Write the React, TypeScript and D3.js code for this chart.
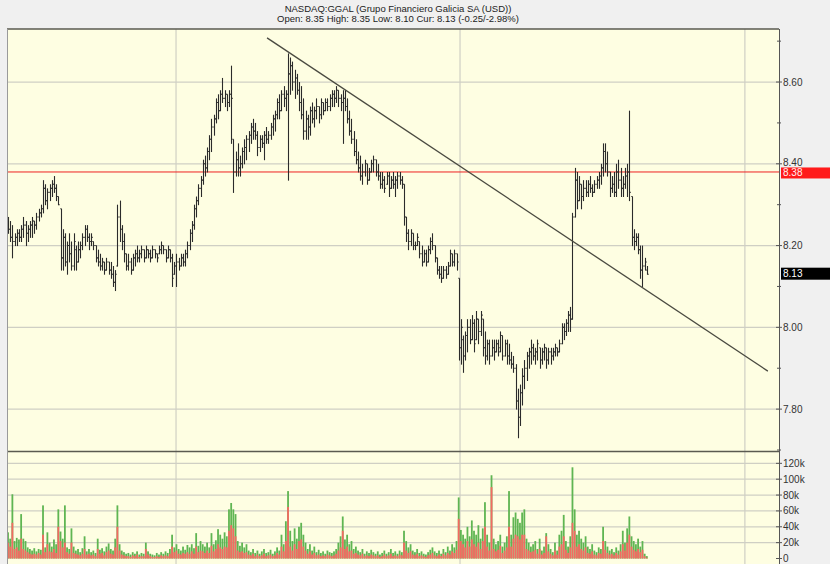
import React from "react";
import * as d3 from "d3";

// ---------- DATA ----------
const titleLine1 = "NASDAQ:GGAL (Grupo Financiero Galicia SA (USD))";
const titleLine2 = "Open: 8.35 High: 8.35 Low: 8.10 Cur: 8.13 (-0.25/-2.98%)";

const opens = [
  8.25,8.24,8.22,8.21,8.22,8.23,8.22,8.24,8.25,8.23,
  8.24,8.25,8.26,8.25,8.27,8.28,8.29,8.34,8.31,8.33,
  8.34,8.35,8.34,8.32,8.29,8.17,8.22,8.16,8.20,8.18,
  8.15,8.19,8.16,8.19,8.20,8.22,8.24,8.22,8.21,8.21,
  8.20,8.17,8.16,8.15,8.16,8.14,8.16,8.14,8.13,8.11,
  8.15,8.27,8.24,8.21,8.18,8.15,8.16,8.14,8.17,8.18,
  8.17,8.18,8.19,8.17,8.19,8.18,8.17,8.19,8.18,8.18,
  8.19,8.20,8.19,8.17,8.19,8.17,8.13,8.15,8.16,8.15,
  8.17,8.16,8.18,8.20,8.23,8.25,8.29,8.31,8.34,8.36,
  8.40,8.39,8.43,8.46,8.49,8.51,8.55,8.53,8.57,8.56,
  8.57,8.55,8.57,8.46,8.38,8.41,8.39,8.40,8.43,8.44,
  8.46,8.47,8.49,8.48,8.47,8.44,8.46,8.45,8.47,8.46,
  8.47,8.49,8.51,8.52,8.55,8.53,8.57,8.56,8.57,8.62,
  8.64,8.60,8.61,8.58,8.55,8.52,8.48,8.51,8.49,8.53,
  8.51,8.53,8.54,8.52,8.55,8.53,8.55,8.54,8.56,8.57,
  8.56,8.58,8.56,8.55,8.56,8.54,8.51,8.48,8.46,8.43,
  8.41,8.39,8.37,8.38,8.40,8.36,8.38,8.40,8.41,8.38,
  8.37,8.35,8.36,8.35,8.37,8.34,8.36,8.35,8.36,8.37,
  8.36,8.35,8.27,8.23,8.21,8.23,8.20,8.20,8.21,8.18,
  8.16,8.18,8.16,8.19,8.21,8.20,8.17,8.14,8.13,8.12,
  8.14,8.13,8.15,8.18,8.16,8.18,8.12,7.95,7.97,7.93,
  7.98,8.00,7.97,8.01,7.97,8.02,7.99,8.02,7.95,7.93,
  7.96,7.93,7.95,7.94,7.96,7.95,7.98,7.93,7.96,7.93,
  7.92,7.91,7.90,7.82,7.78,7.84,7.88,7.90,7.93,7.94,
  7.95,7.93,7.94,7.95,7.92,7.94,7.95,7.92,7.94,7.93,
  7.94,7.95,7.94,7.96,8.00,7.99,8.01,8.03,8.02,8.27,
  8.36,8.31,8.35,8.32,8.34,8.33,8.35,8.34,8.33,8.35,
  8.36,8.37,8.39,8.43,8.40,8.38,8.34,8.35,8.33,8.38,
  8.36,8.34,8.35,8.37,8.38,8.32,8.22,8.21,8.22,8.19,
  8.14,8.15,8.14,
];

const highs = [
  8.27,8.26,8.25,8.23,8.24,8.24,8.25,8.27,8.26,8.25,
  8.26,8.27,8.26,8.28,8.29,8.30,8.36,8.35,8.34,8.35,
  8.36,8.37,8.35,8.32,8.29,8.24,8.23,8.21,8.23,8.21,
  8.23,8.20,8.21,8.21,8.23,8.25,8.25,8.23,8.23,8.21,
  8.20,8.19,8.18,8.17,8.16,8.17,8.16,8.16,8.15,8.14,
  8.30,8.31,8.25,8.23,8.18,8.18,8.17,8.18,8.19,8.20,
  8.19,8.20,8.19,8.20,8.19,8.19,8.20,8.19,8.18,8.20,
  8.21,8.20,8.19,8.20,8.19,8.18,8.16,8.18,8.17,8.18,
  8.18,8.19,8.21,8.24,8.26,8.30,8.32,8.35,8.37,8.41,
  8.42,8.44,8.47,8.51,8.52,8.56,8.57,8.58,8.61,8.58,
  8.57,8.58,8.64,8.46,8.43,8.45,8.42,8.44,8.46,8.47,
  8.48,8.50,8.51,8.50,8.48,8.47,8.47,8.48,8.49,8.48,
  8.50,8.52,8.53,8.56,8.57,8.58,8.59,8.58,8.67,8.66,
  8.65,8.63,8.62,8.60,8.59,8.56,8.53,8.52,8.54,8.55,
  8.54,8.56,8.54,8.56,8.55,8.56,8.56,8.57,8.58,8.58,
  8.59,8.58,8.57,8.58,8.58,8.56,8.53,8.51,8.48,8.46,
  8.43,8.42,8.40,8.41,8.40,8.39,8.41,8.42,8.41,8.40,
  8.38,8.38,8.37,8.38,8.38,8.37,8.38,8.37,8.38,8.38,
  8.37,8.35,8.27,8.24,8.24,8.23,8.21,8.23,8.21,8.20,
  8.19,8.19,8.20,8.22,8.23,8.20,8.17,8.15,8.15,8.15,
  8.15,8.16,8.19,8.18,8.19,8.18,8.12,8.02,7.98,7.99,
  8.02,8.02,8.03,8.02,8.04,8.02,8.04,8.02,7.99,7.97,
  7.97,7.97,7.97,7.97,7.97,7.99,7.98,7.97,7.97,7.96,
  7.94,7.93,7.91,7.85,7.86,7.90,7.92,7.94,7.95,7.97,
  7.96,7.95,7.97,7.95,7.95,7.96,7.95,7.95,7.95,7.95,
  7.96,7.95,7.97,8.01,8.01,8.02,8.04,8.05,8.28,8.39,
  8.38,8.37,8.35,8.36,8.36,8.36,8.37,8.35,8.36,8.37,
  8.38,8.40,8.45,8.45,8.43,8.38,8.37,8.38,8.40,8.41,
  8.39,8.37,8.39,8.40,8.53,8.32,8.24,8.23,8.23,8.20,
  8.20,8.17,8.15,
];

const lows = [
  8.23,8.21,8.17,8.20,8.20,8.21,8.21,8.22,8.20,8.21,
  8.22,8.22,8.23,8.24,8.26,8.27,8.28,8.30,8.29,8.31,
  8.32,8.33,8.31,8.30,8.14,8.14,8.15,8.13,8.16,8.14,
  8.14,8.14,8.16,8.17,8.19,8.20,8.21,8.19,8.20,8.19,
  8.16,8.15,8.14,8.14,8.13,8.14,8.13,8.12,8.10,8.09,
  8.15,8.21,8.19,8.16,8.14,8.14,8.13,8.14,8.15,8.16,
  8.16,8.17,8.16,8.17,8.17,8.16,8.17,8.17,8.16,8.18,
  8.18,8.18,8.16,8.17,8.16,8.10,8.13,8.10,8.14,8.15,
  8.15,8.15,8.17,8.19,8.21,8.24,8.27,8.30,8.32,8.35,
  8.37,8.38,8.41,8.43,8.47,8.50,8.51,8.53,8.55,8.54,
  8.53,8.54,8.45,8.33,8.37,8.37,8.37,8.39,8.40,8.41,
  8.43,8.45,8.46,8.46,8.42,8.43,8.44,8.41,8.45,8.45,
  8.46,8.47,8.48,8.51,8.51,8.53,8.54,8.53,8.36,8.57,
  8.58,8.56,8.57,8.53,8.51,8.46,8.46,8.46,8.47,8.50,
  8.49,8.51,8.50,8.51,8.52,8.53,8.53,8.53,8.54,8.54,
  8.55,8.54,8.53,8.45,8.53,8.50,8.47,8.45,8.42,8.40,
  8.38,8.36,8.35,8.37,8.35,8.36,8.38,8.38,8.37,8.36,
  8.34,8.34,8.33,8.35,8.32,8.34,8.34,8.32,8.34,8.35,
  8.34,8.25,8.21,8.19,8.20,8.19,8.19,8.20,8.17,8.15,
  8.16,8.15,8.16,8.18,8.19,8.16,8.13,8.12,8.11,8.12,
  8.12,8.13,8.15,8.15,8.15,8.14,7.92,7.91,7.89,7.92,
  7.94,7.96,7.97,7.94,7.97,7.96,7.98,7.93,7.91,7.92,
  7.91,7.93,7.92,7.94,7.93,7.94,7.92,7.93,7.91,7.91,
  7.90,7.89,7.80,7.73,7.76,7.81,7.85,7.87,7.90,7.91,
  7.92,7.91,7.92,7.90,7.91,7.92,7.90,7.91,7.91,7.92,
  7.93,7.93,7.94,7.96,7.97,7.98,7.99,7.99,8.02,8.27,
  8.29,8.31,8.29,8.31,8.32,8.32,8.33,8.32,8.33,8.34,
  8.34,8.35,8.37,8.38,8.37,8.32,8.33,8.32,8.32,8.34,
  8.32,8.32,8.34,8.32,8.31,8.20,8.19,8.20,8.18,8.12,
  8.10,8.14,8.13,
];

const closes = [
  8.24,8.22,8.21,8.22,8.23,8.22,8.24,8.25,8.23,8.24,
  8.25,8.26,8.25,8.27,8.28,8.29,8.34,8.31,8.33,8.34,
  8.35,8.34,8.32,8.30,8.17,8.22,8.16,8.20,8.18,8.15,
  8.21,8.16,8.19,8.20,8.22,8.24,8.22,8.21,8.22,8.20,
  8.17,8.16,8.15,8.16,8.14,8.16,8.14,8.13,8.11,8.13,
  8.27,8.24,8.21,8.18,8.15,8.16,8.14,8.17,8.18,8.17,
  8.18,8.19,8.17,8.19,8.18,8.17,8.19,8.18,8.17,8.19,
  8.20,8.19,8.17,8.19,8.17,8.12,8.15,8.16,8.15,8.17,
  8.16,8.18,8.20,8.23,8.25,8.29,8.31,8.34,8.36,8.40,
  8.39,8.43,8.46,8.49,8.51,8.55,8.53,8.57,8.56,8.57,
  8.55,8.57,8.56,8.38,8.41,8.39,8.40,8.43,8.44,8.46,
  8.47,8.49,8.48,8.47,8.44,8.46,8.45,8.47,8.46,8.47,
  8.49,8.51,8.52,8.55,8.53,8.57,8.56,8.57,8.62,8.64,
  8.60,8.61,8.58,8.55,8.52,8.48,8.51,8.49,8.53,8.51,
  8.53,8.54,8.52,8.55,8.53,8.55,8.54,8.56,8.57,8.56,
  8.58,8.56,8.55,8.56,8.54,8.51,8.48,8.46,8.43,8.41,
  8.39,8.37,8.38,8.40,8.36,8.38,8.40,8.41,8.38,8.37,
  8.35,8.36,8.34,8.37,8.34,8.36,8.35,8.36,8.37,8.36,
  8.35,8.27,8.23,8.21,8.23,8.20,8.20,8.22,8.18,8.16,
  8.18,8.16,8.19,8.21,8.20,8.17,8.14,8.13,8.12,8.14,
  8.13,8.15,8.18,8.16,8.18,8.16,7.95,8.00,7.93,7.98,
  8.00,7.97,8.01,7.96,8.02,7.99,8.03,7.95,7.93,7.96,
  7.93,7.95,7.94,7.96,7.94,7.98,7.93,7.96,7.93,7.92,
  7.91,7.90,7.82,7.78,7.84,7.88,7.90,7.93,7.94,7.95,
  7.93,7.94,7.96,7.92,7.94,7.95,7.92,7.94,7.93,7.94,
  7.95,7.94,7.96,8.00,7.99,8.01,8.03,8.02,8.27,8.36,
  8.31,8.35,8.32,8.34,8.33,8.35,8.34,8.33,8.35,8.36,
  8.37,8.39,8.43,8.40,8.38,8.34,8.35,8.33,8.38,8.36,
  8.34,8.35,8.37,8.38,8.33,8.22,8.21,8.22,8.19,8.14,
  8.15,8.16,8.13,
];

// volume in thousands of shares: total, and the red (lower) part
const volumeTotalK = [
  33,25,81,22,26,24,56,25,22,14,
  12,10,13,9,12,11,67,14,33,20,
  15,24,18,62,34,25,67,14,12,38,
  15,10,12,8,13,28,9,12,8,10,
  7,25,11,13,9,15,19,12,10,25,
  67,18,10,8,6,7,5,8,6,9,
  5,7,6,20,9,6,5,4,7,5,
  8,6,9,7,12,30,14,18,12,10,
  15,11,17,14,18,13,32,16,22,18,
  15,20,14,32,18,23,37,30,25,33,
  28,62,70,62,56,22,16,20,14,18,
  10,8,12,7,10,6,9,12,7,8,
  11,6,9,14,10,30,18,47,85,35,
  22,38,25,40,45,30,20,12,18,10,
  15,8,11,7,9,6,10,8,7,9,
  12,20,28,53,24,30,18,22,12,15,
  10,8,12,6,9,7,11,8,6,9,
  5,7,10,6,8,12,7,9,6,10,
  8,35,22,14,18,10,8,12,7,9,
  6,5,8,11,14,9,7,10,6,12,
  8,15,10,18,14,22,77,36,30,25,
  40,28,48,35,30,42,25,38,71,30,
  20,105,25,18,22,30,15,20,28,85,
  30,52,58,50,45,58,62,25,20,15,
  18,22,12,25,10,15,32,18,12,8,
  20,10,30,35,55,22,15,28,115,62,
  30,35,25,20,28,15,12,18,10,8,
  14,12,40,22,15,10,12,8,14,10,
  18,35,20,38,53,28,22,18,25,15,
  22,6,3,
];

const volumeRedK = [
  20,15,45,12,14,10,25,12,10,8,
  6,5,6,5,7,5,30,8,18,9,
  8,12,7,40,22,14,20,8,6,20,
  7,6,5,4,6,12,5,6,4,5,
  3,12,6,7,4,8,10,6,5,14,
  40,10,5,4,3,3,2,4,3,5,
  2,3,3,12,5,3,2,2,3,2,
  4,3,4,3,6,15,8,10,6,5,
  7,6,8,6,9,6,15,8,10,9,
  7,10,7,16,9,12,18,14,12,15,
  14,35,42,38,28,10,8,9,7,8,
  5,4,6,3,5,3,4,6,3,4,
  5,3,4,7,5,15,9,22,65,15,
  10,18,12,22,24,15,10,6,9,5,
  7,4,5,3,4,3,5,4,3,4,
  6,10,14,35,12,15,9,10,6,7,
  5,4,6,3,4,3,5,4,3,4,
  2,3,5,3,4,6,3,4,3,5,
  4,20,10,7,9,5,4,6,3,4,
  3,2,4,5,7,4,3,5,3,6,
  4,7,5,9,7,11,50,22,18,14,
  22,15,24,18,15,20,12,22,40,15,
  10,90,12,9,11,16,7,10,14,40,
  15,25,30,28,24,30,30,12,10,8,
  9,11,6,12,5,7,28,9,6,4,
  10,5,15,18,28,11,7,14,45,35,
  15,18,12,10,14,7,6,9,5,4,
  7,6,22,11,7,5,6,4,7,5,
  9,18,10,20,30,15,11,9,12,8,
  11,3,1,
];

const sessionBreaks = [76.8, 206.6, 336.8]; // bar-index positions of session boundaries
const priceTicks = [7.8, 8.0, 8.2, 8.4, 8.6];
const priceMinorTicks = [7.7, 7.9, 8.1, 8.3, 8.5, 8.7];
const volumeTicks = [0, 20000, 40000, 60000, 80000, 100000, 120000];
const prevClose = 8.38;
const lastPrice = 8.13;
const trendIdx = [118.4, 347.3];
const trendPrice = [8.708, 7.893];

// ---------- LAYOUT ----------
const W = 830, H = 564;
const PL = 7, PR = 779, PT = 29, PB = 451, VB = 558.5, VT = 452;
const FONT = '"Liberation Sans", Arial, Helvetica, sans-serif';

export default function App() {
  const x = d3.scaleLinear().domain([-0.46, 352.4]).range([PL, PR]);
  const y = d3.scaleLinear().domain([7.7, 8.7297]).range([450, PT]);
  const yv = d3.scaleLinear().domain([0, 134300]).range([VB, VT]);

  const trendLine = d3.line<number>()
    .x((_, i) => x(trendIdx[i]))
    .y((d) => y(d))(trendPrice) || "";

  const fmtVol = (v: number) => (v === 0 ? "0" : `${v / 1000}k`);

  return (
    <div style={{ position: "fixed", left: 0, top: 0 }}>
      <svg width={W} height={H} style={{ display: "block", fontFamily: FONT }}>
        <defs>
          <clipPath id="priceClip">
            <rect x={PL} y={PT} width={PR - PL} height={PB - PT} />
          </clipPath>
          <clipPath id="volClip">
            <rect x={PL} y={VT} width={PR - PL} height={H - VT} />
          </clipPath>
        </defs>
        <rect x={0} y={0} width={W} height={H} fill="#f0f0f0" />
        <rect x={PL} y={PT} width={PR - PL} height={H - PT} fill="#fefee2" />

        {/* title */}
        <text x={398} y={12} textAnchor="middle" fontSize={9.5} fill="#222">{titleLine1}</text>
        <text x={398} y={22} textAnchor="middle" fontSize={9.5} fill="#222">{titleLine2}</text>

        {/* grid: price */}
        {priceTicks.map((t) => (
          <line key={"pg" + t} x1={PL} x2={PR} y1={y(t)} y2={y(t)} stroke="#cfcfc4" strokeWidth={1.2} />
        ))}
        {/* grid: volume */}
        {volumeTicks.slice(1).map((t) => (
          <line key={"vg" + t} x1={PL} x2={PR} y1={yv(t)} y2={yv(t)} stroke="#cfcfc4" strokeWidth={1.2} />
        ))}
        {/* vertical session grid */}
        {sessionBreaks.map((b) => (
          <line key={"sb" + b} x1={x(b)} x2={x(b)} y1={PT} y2={H} stroke="#cfcfc4" strokeWidth={1.2} />
        ))}

        {/* previous close line */}
        <line x1={PL} x2={PR} y1={y(prevClose)} y2={y(prevClose)} stroke="#ee2020" strokeWidth={1} />

        {/* OHLC bars */}
        <g clipPath="url(#priceClip)" stroke="#2b2b2b" strokeWidth={1.1}>
          {highs.map((h, i) => {
            const cx = Math.round(x(i)) + 0.5;
            return (
              <g key={"b" + i}>
                <line x1={cx} x2={cx} y1={y(h)} y2={y(lows[i]) + 0.5} />
                <line x1={cx - 1.2} x2={cx} y1={y(opens[i])} y2={y(opens[i])} />
                <line x1={cx} x2={cx + 1.2} y1={y(closes[i])} y2={y(closes[i])} />
              </g>
            );
          })}
        </g>

        {/* trend line */}
        <path d={trendLine} stroke="#4a4a40" strokeWidth={1.3} fill="none" />

        {/* volume bars */}
        <g clipPath="url(#volClip)">
          {volumeTotalK.map((v, i) => {
            const bx = x(i) - 0.9;
            const yTop = yv(v * 1000);
            const yRed = yv(volumeRedK[i] * 1000);
            return (
              <g key={"v" + i}>
                <rect x={bx} y={yTop} width={1.8} height={VB - yTop} fill="#5fb552" />
                <rect x={bx} y={yRed} width={1.8} height={VB - yRed} fill="#f36a62" />
              </g>
            );
          })}
        </g>

        {/* frame lines */}
        <line x1={PL} x2={PR} y1={PT} y2={PT} stroke="#5a5a50" strokeWidth={1.5} />
        <line x1={PL} x2={PR} y1={PB + 0.5} y2={PB + 0.5} stroke="#5a5a50" strokeWidth={1.5} />
        <line x1={PL + 0.5} x2={PL + 0.5} y1={PT} y2={H} stroke="#9a9a9a" strokeWidth={1} />
        <line x1={PR + 0.5} x2={PR + 0.5} y1={PT} y2={H} stroke="#555" strokeWidth={1} />

        {/* price axis */}
        {priceMinorTicks.map((t) => (
          <line key={"pm" + t} x1={PR - 2} x2={PR + 2} y1={y(t)} y2={y(t)} stroke="#555" />
        ))}
        {priceTicks.map((t) => (
          <g key={"pt" + t}>
            <line x1={PR - 3} x2={PR + 3} y1={y(t)} y2={y(t)} stroke="#555" />
            <text x={PR + 4} y={y(t) - (t === 8.4 ? 1.5 : 0)} dy="0.35em" fontSize={10} fill="#333">{t.toFixed(2)}</text>
          </g>
        ))}
        {/* volume axis */}
        {volumeTicks.map((t) => (
          <g key={"vt" + t}>
            <line x1={PR - 3} x2={PR + 3} y1={yv(t)} y2={yv(t)} stroke="#555" />
            <text x={PR + 4} y={yv(t)} dy="0.35em" fontSize={10} fill="#333">{fmtVol(t)}</text>
          </g>
        ))}

        {/* price badges */}
        <rect x={PR + 2} y={y(prevClose) - 4.5} width={W - PR - 2} height={11} fill="#ff1a1a" />
        <text x={PR + 4} y={y(prevClose) + 1} dy="0.35em" fontSize={10} fill="#fff0f0">{prevClose.toFixed(2)}</text>
        <rect x={PR + 2} y={y(lastPrice) - 6.5} width={W - PR - 2} height={12} fill="#000" />
        <text x={PR + 4} y={y(lastPrice) - 0.5} dy="0.35em" fontSize={10} fill="#fff">{lastPrice.toFixed(2)}</text>
      </svg>
    </div>
  );
}
